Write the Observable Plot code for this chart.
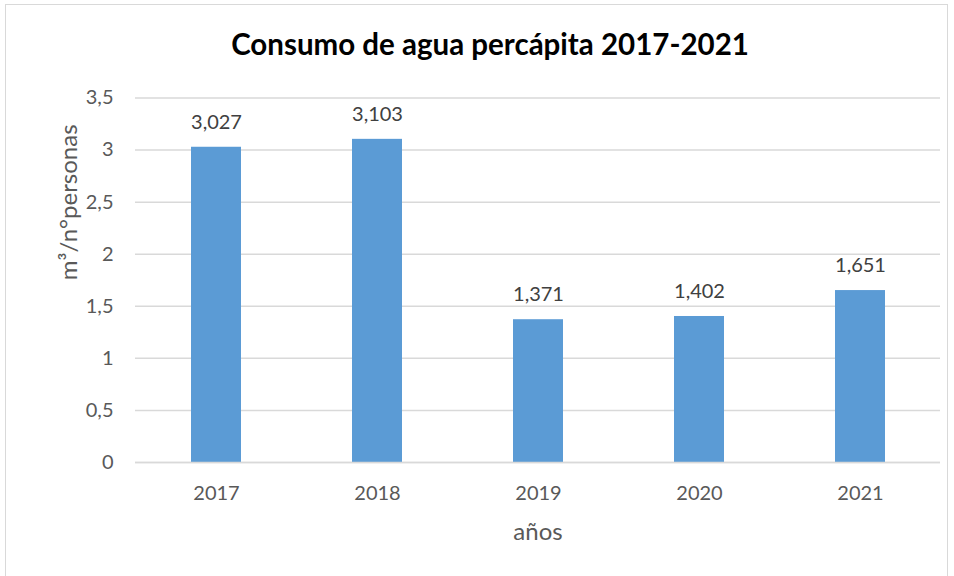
<!DOCTYPE html>
<html>
<head>
<meta charset="utf-8">
<script src="https://cdn.jsdelivr.net/npm/d3@7"></script>
<script src="https://cdn.jsdelivr.net/npm/@observablehq/plot@0.6"></script>
<style>
  html, body { margin: 0; padding: 0; background: #fff; width: 954px; height: 576px; overflow: hidden; }
  #frame { position: absolute; left: 5px; top: 4px; width: 943px; height: 600px; border: 1.5px solid #d9d9d9; box-sizing: border-box; pointer-events: none; }
  #title { position: absolute; left: 0; top: 26px; width: 980px; text-align: center; font-family: Lato, "Open Sans", sans-serif; font-weight: bold; font-size: 29.5px; color: #000; }
  #chart { position: absolute; left: 0; top: 60px; }
</style>
</head>
<body>
<div id="title">Consumo de agua percápita 2017-2021</div>
<div id="chart"></div>
<div id="frame"></div>
<script>
const years = ["2017", "2018", "2019", "2020", "2021"];
const values = [3.027, 3.103, 1.371, 1.402, 1.651];
const valueLabels = ["3,027", "3,103", "1,371", "1,402", "1,651"];
const yTicks = [0, 0.5, 1, 1.5, 2, 2.5, 3, 3.5];
const yTitle = "m³/n°personas";
const xTitle = "años";

const data = years.map((y, i) => ({year: y, value: values[i], label: valueLabels[i]}));
const comma = d => String(d).replace(".", ",");

const chart = Plot.plot({
  width: 954,
  height: 516,
  marginTop: 37.5,
  marginBottom: 114,
  marginLeft: 135,
  marginRight: 14,
  style: {fontFamily: "Lato, 'Open Sans', sans-serif", fontSize: "20px", color: "#595959", background: "transparent"},
  x: {domain: years, paddingInner: 0.69, paddingOuter: 0.345, align: 0.5, axis: null},
  y: {domain: [0, 3.5], axis: null},
  marks: [
    Plot.gridY(yTicks, {stroke: "#d9d9d9", strokeOpacity: 1, strokeWidth: 1.5}),
    Plot.barY(data, {x: "year", y: "value", fill: "#5B9BD5"}),
    Plot.ruleY([0], {stroke: "#d9d9d9", strokeWidth: 1.5}),
    Plot.axisY(yTicks, {tickSize: 0, tickPadding: 22, tickFormat: comma, fontSize: 20, fill: "#595959", label: null}),
    Plot.axisX({tickSize: 0, tickPadding: 23, fontSize: 20, fill: "#595959", label: null}),
    Plot.text(data, {x: "year", y: "value", text: "label", dy: -25, fontSize: 20, fill: "#404040"}),
    Plot.text([yTitle], {frameAnchor: "left", rotate: -90, dx: -66, fontSize: 24, fill: "#595959"}),
    Plot.text([xTitle], {frameAnchor: "bottom", dy: 77, fontSize: 24, fill: "#595959"})
  ]
});
document.getElementById("chart").appendChild(chart);
</script>
</body>
</html>
